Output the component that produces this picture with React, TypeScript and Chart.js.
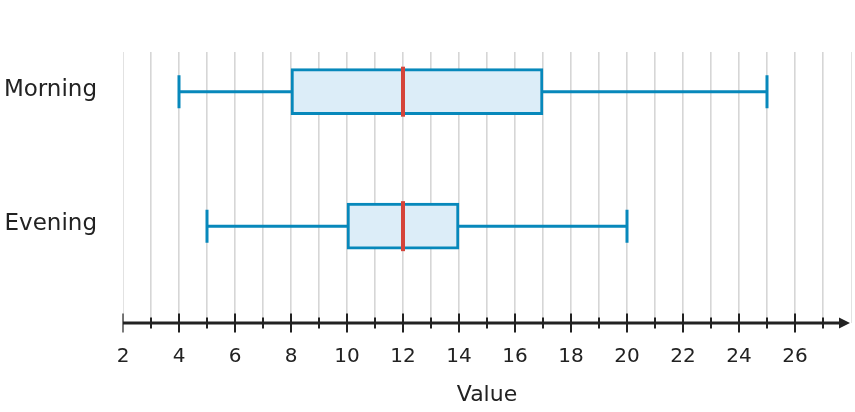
import React, { useEffect, useRef } from 'react';
import { Chart, registerables } from 'chart.js';

Chart.register(...registerables);

// ---- data ----
const categories = ['Morning', 'Evening'];
const whiskerLow = [4, 5];
const quartile1 = [8, 10];
const medians = [12, 12];
const quartile3 = [17, 14];
const whiskerHigh = [25, 20];
const xMin = 2;
const xMax = 28;
const labeledTicks = [2, 4, 6, 8, 10, 12, 14, 16, 18, 20, 22, 24, 26];
const axisTitle = 'Value';

// ---- styles ----
const BOX_STROKE = '#0788bb';
const BOX_FILL = '#dcedf8';
const MEDIAN = '#d5443a';
const INK = '#222222';
const GRID = '#d6d6d6';
const FONT = "'DejaVu Sans', sans-serif";

const boxExtras = {
  id: 'boxExtras',
  afterDatasetsDraw(chart: any) {
    const { ctx, scales } = chart;
    const x = scales.x;
    const y = scales.y;
    ctx.save();
    categories.forEach((_, i) => {
      const cy = y.getPixelForValue(i);
      const pLo = x.getPixelForValue(whiskerLow[i]);
      const pQ1 = x.getPixelForValue(quartile1[i]);
      const pQ3 = x.getPixelForValue(quartile3[i]);
      const pHi = x.getPixelForValue(whiskerHigh[i]);
      const pMed = x.getPixelForValue(medians[i]);
      ctx.strokeStyle = BOX_STROKE;
      ctx.lineWidth = 3;
      ctx.lineCap = 'butt';
      ctx.beginPath();
      ctx.moveTo(pLo, cy);
      ctx.lineTo(pQ1, cy);
      ctx.moveTo(pQ3, cy);
      ctx.lineTo(pHi, cy);
      ctx.moveTo(pLo, cy - 16.5);
      ctx.lineTo(pLo, cy + 16.5);
      ctx.moveTo(pHi, cy - 16.5);
      ctx.lineTo(pHi, cy + 16.5);
      ctx.stroke();
      ctx.strokeStyle = MEDIAN;
      ctx.lineWidth = 4;
      ctx.beginPath();
      ctx.moveTo(pMed, cy - 25);
      ctx.lineTo(pMed, cy + 25);
      ctx.stroke();
    });
    ctx.restore();
  },
  afterDraw(chart: any) {
    const { ctx, scales, chartArea } = chart;
    const x = scales.x;
    const ay = chartArea.bottom;
    const right = x.getPixelForValue(xMax);
    const left = x.getPixelForValue(xMin);
    ctx.save();
    ctx.strokeStyle = INK;
    ctx.fillStyle = INK;
    ctx.lineWidth = 3;
    ctx.beginPath();
    ctx.moveTo(left, ay);
    ctx.lineTo(right - 8, ay);
    ctx.stroke();
    ctx.beginPath();
    ctx.moveTo(right - 12, ay - 5.5);
    ctx.lineTo(right - 1, ay);
    ctx.lineTo(right - 12, ay + 5.5);
    ctx.closePath();
    ctx.fill();
    x.ticks.forEach((t: any) => {
      if (t.value >= xMax) return;
      const px = x.getPixelForValue(t.value);
      const major = t.value % 2 === 0;
      const h = major ? 9.5 : 5.5;
      ctx.lineWidth = t.value === xMin ? 1.2 : 2;
      ctx.beginPath();
      ctx.moveTo(px, ay - h);
      ctx.lineTo(px, ay + h);
      ctx.stroke();
    });
    ctx.restore();
  },
};

export default function App() {
  const ref = useRef<HTMLCanvasElement | null>(null);
  useEffect(() => {
    if (!ref.current) return;
    const chart = new Chart(ref.current, {
      type: 'bar',
      data: {
        datasets: [
          {
            data: categories.map((_, i) => ({ x: [quartile1[i], quartile3[i]], y: i })) as any,
            backgroundColor: BOX_FILL,
            borderColor: BOX_STROKE,
            borderWidth: 3,
            borderSkipped: false,
            barThickness: 46,
          },
        ],
      },
      options: {
        indexAxis: 'y',
        responsive: false,
        animation: false,
        layout: { padding: { top: 52, right: 4, left: 0, bottom: 0 } },
        plugins: { legend: { display: false }, tooltip: { enabled: false } },
        scales: {
          x: {
            type: 'linear',
            min: xMin,
            max: xMax,
            offset: false,
            afterFit: (s: any) => {
              s.height = 89;
              s.paddingLeft = 0;
              s.paddingRight = 0;
            },
            grid: {
              display: true,
              drawTicks: false,
              offset: false,
              color: (c: any) =>
                c.tick && (c.tick.value === xMin || c.tick.value === xMax) ? '#e2e2e2' : GRID,
              lineWidth: (c: any) =>
                c.tick && (c.tick.value === xMin || c.tick.value === xMax) ? 1 : 1.6,
            },
            border: { display: false },
            ticks: {
              stepSize: 1,
              autoSkip: false,
              maxRotation: 0,
              padding: 22,
              color: INK,
              font: { family: FONT, size: 20 },
              callback: (v: any) => (labeledTicks.includes(Number(v)) ? String(v) : ''),
            },
            title: {
              display: true,
              text: axisTitle,
              color: INK,
              font: { family: FONT, size: 22 },
              padding: { top: 10, bottom: 4 },
            },
          },
          y: {
            type: 'linear',
            reverse: true,
            min: -0.295,
            max: 1.72,
            offset: false,
            afterFit: (s: any) => {
              s.width = 123;
              s.paddingTop = 0;
              s.paddingBottom = 0;
            },
            afterBuildTicks: (s: any) => {
              s.ticks = categories.map((_, i) => ({ value: i }));
            },
            grid: { display: false, drawTicks: false, offset: false },
            border: { display: false },
            ticks: {
              padding: 26,
              labelOffset: -2,
              color: INK,
              font: { family: FONT, size: 23 },
              callback: (v: any) => categories[Number(v)] ?? '',
            },
          },
        },
      },
      plugins: [boxExtras],
    });
    return () => chart.destroy();
  }, []);
  return (
    <div style={{ position: 'fixed', left: 0, top: 0, width: 855, height: 412, background: '#fff' }}>
      <canvas ref={ref} width={855} height={412} />
    </div>
  );
}
